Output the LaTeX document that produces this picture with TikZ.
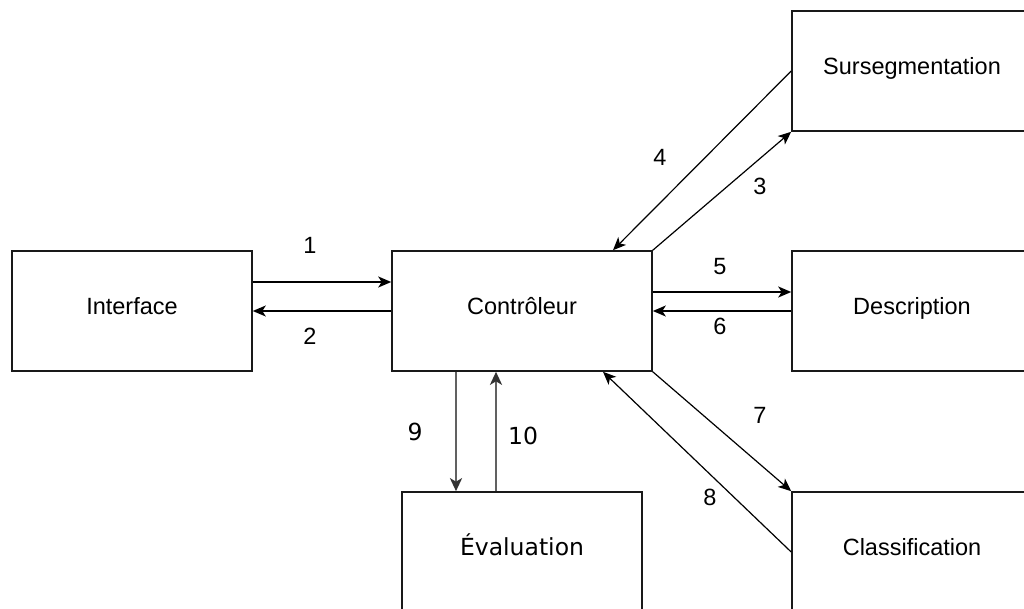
\documentclass[tikz,border=0pt]{standalone}
\usepackage{fontspec}
\setmainfont{Liberation Sans}
\newfontfamily\dejavu{DejaVu Sans}
\usetikzlibrary{arrows.meta}

\tikzset{
  bloc/.style={draw=black!90, line width=1.6pt, minimum width=240pt,
    minimum height=120pt, inner sep=0pt, text height=17pt, text depth=10pt,
    font=\fontsize{23.5}{28}\selectfont},
  num/.style={font=\fontsize{23.5}{28}\selectfont, inner sep=0pt},
  fleche/.style={-{Stealth[length=13pt,width=11pt,inset=3.5pt]}, line width=1.8pt},
  fine/.style={-{Stealth[length=13pt,width=11pt,inset=3.5pt]}, line width=1.2pt},
  grise/.style={-{Stealth[length=13pt,width=12pt,inset=3.5pt,color=black!80]}, line width=2.8pt, draw=black!62}
}

\begin{document}
\begin{tikzpicture}[x=1pt, y=-1pt]
      \useasboundingbox (0,0) rectangle (1024,609);
      \clip (0,0) rectangle (1024,609);
      \fill[white] (0,0) rectangle (1024,609);
      \draw
        (132,311) node[bloc] (iface){Interface}
        (522,311) node[bloc, minimum width=260pt] (ctrl){Contrôleur}
        (912,71) node[bloc] (surs){Sursegmentation}
        (912,311) node[bloc] (desc){Description}
        (912,552) node[bloc] (classif){Classification}
        (522,552) node[bloc, font=\dejavu\fontsize{23.5}{28}\selectfont] (eval){Évaluation};
      \draw
        (310,245) node[num] (n1){1}
        (310,336) node[num] (n2){2}
        (760,186) node[num] (n3){3}
        (660,157) node[num] (n4){4}
        (720,267) node[num] (n5){5}
        (720,326) node[num] (n6){6}
        (760,415) node[num] (n7){7}
        (710,497) node[num] (n8){8}
        (415,432) node[num, font=\dejavu\fontsize{23.5}{28}\selectfont] (n9){9}
        (523,436) node[num, font=\dejavu\fontsize{23.5}{28}\selectfont] (n10){10};
      \begin{scope}[fleche]
        \draw ([yshift=29pt]iface.east) to ([yshift=29pt]ctrl.west);
        \draw (ctrl.west) to (iface.east);
        \draw ([yshift=19pt]ctrl.east) to ([yshift=19pt]desc.west);
        \draw (desc.west) to (ctrl.east);
      \end{scope}
      \begin{scope}[fine]
        \draw (ctrl.north east) to (surs.south west);
        \draw (surs.west) to ([xshift=91pt]ctrl.north);
        \draw (ctrl.south east) to (classif.north west);
        \draw (classif.west) to ([xshift=81pt]ctrl.south);
      \end{scope}
      \begin{scope}[grise]
        \draw ([xshift=-66pt]ctrl.south) to ([xshift=-66pt]eval.north);
        \draw ([xshift=-26pt]eval.north) to ([xshift=-26pt]ctrl.south);
      \end{scope}
    \end{tikzpicture}
\end{document}
